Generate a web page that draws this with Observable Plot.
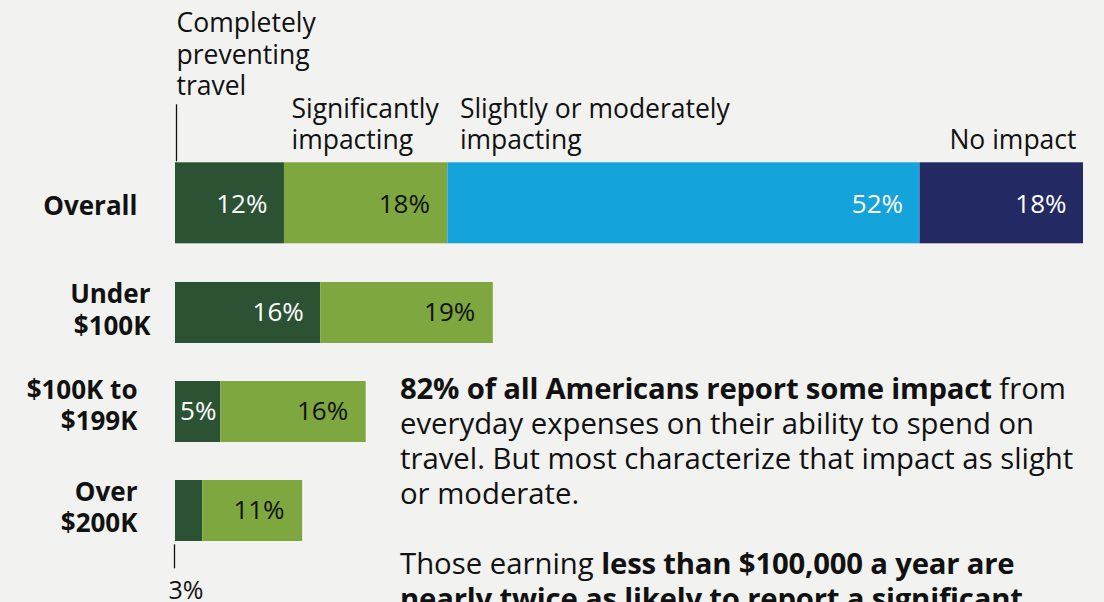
<!DOCTYPE html>
<html><head><meta charset="utf-8">
<script src="https://cdn.jsdelivr.net/npm/d3@7"></script>
<script src="https://cdn.jsdelivr.net/npm/@observablehq/plot@0.6"></script>
<style>
html,body{margin:0;padding:0;background:#f2f2f0;overflow:hidden;width:1104px;height:602px}
#wrap{position:relative;width:1104px;height:602px}
#chart svg{display:block}
#note{position:absolute;left:400px;top:371px;font-family:"Open Sans",sans-serif;font-size:29.3px;line-height:35px;color:#111;white-space:nowrap}
#note p{margin:0 0 35px 0}
#note b{font-weight:700;letter-spacing:-0.2px}
</style></head>
<body><div id="wrap"><div id="chart"></div><div id="note"></div></div>
<script>
// ---- data ----
const groups = ["Overall", "Under $100K", "$100K to $199K", "Over $200K"];
const groupLabels = ["Overall", "Under\n$100K", "$100K to\n$199K", "Over\n$200K"];
const categories = ["Completely preventing travel", "Significantly impacting", "Slightly or moderately impacting", "No impact"];
const categoryLabels = ["Completely\npreventing\ntravel", "Significantly\nimpacting", "Slightly or moderately\nimpacting", "No impact"];
const overallValues = [12, 18, 52, 18];
const under100kValues = [16, 19];
const k100to199Values = [5, 16];
const over200kValues = [3, 11];
const colors = ["#2c5234", "#7fa73f", "#15a3dc", "#232a63"];
const noteParagraph1 = [
  "<b>82% of all Americans report some impact</b> from",
  "everyday expenses on their ability to spend on",
  "travel. But most characterize that impact as slight",
  "or moderate."
];
const noteParagraph2 = [
  "Those earning <b>less than $100,000 a year are</b>",
  "<b>nearly twice as likely to report a significant</b>"
];

// ---- table ----
const seriesValues = [overallValues, under100kValues, k100to199Values, over200kValues];
const rows = [];
groups.forEach((g, i) => seriesValues[i].forEach((v, j) => rows.push({group: g, category: categories[j], value: v})));
const isOverall = d => d.group === groups[0];
const overallRows = rows.filter(isOverall);
const otherRows = rows.filter(d => !isOverall(d));
const labelOf = c => categoryLabels[categories.indexOf(c)];
const pct = d => `${d.value}%`;
const ink = "#111";
const headFont = 26.5, headLH = 31.5 / 26.5;
const groupLH = 31.5 / 26;

// value labels inside the bars for one subset of rows
function inBarLabels(data, dy) {
  return [
    Plot.text(data, Plot.stackX2({x: "value", y: "group",
      text: d => d.value >= 10 && d.category !== categories[1] ? pct(d) : null,
      textAnchor: "end", dx: -17, dy, fill: "white", fontSize: 26})),
    Plot.text(data, Plot.stackX2({x: "value", y: "group",
      text: d => d.value >= 10 && d.category === categories[1] ? pct(d) : null,
      textAnchor: "end", dx: -18, dy, fill: ink, fontSize: 26})),
    Plot.text(data, Plot.stackX({x: "value", y: "group",
      text: d => d.value >= 5 && d.value < 10 ? pct(d) : null,
      dy, fill: "white", fontSize: 26}))
  ];
}

const firstOf = g => rows.filter(d => d.group === g && d.category === categories[0]);
const groupText = (subset, dx, dy) => Plot.text(subset, {y: d => d, text: d => groupLabels[groups.indexOf(d)],
  frameAnchor: "left", textAnchor: "end", dx, dy, fontWeight: 700, fontSize: 26, lineHeight: groupLH, fill: ink});

const chart = Plot.plot({
  width: 1104, height: 602,
  marginLeft: 175, marginRight: 21, marginTop: 0, marginBottom: 0,
  style: {background: "transparent", fontFamily: '"Open Sans", sans-serif', color: ink},
  x: {domain: [0, 100], axis: null},
  y: {domain: groups, range: [161.7, 561.7], paddingInner: 0.38, paddingOuter: 0.2, axis: null},
  color: {domain: categories, range: colors},
  marks: [
    // bars
    Plot.barX(overallRows, Plot.stackX({x: "value", y: "group", fill: "category", insetTop: -20.7, insetBottom: 0.7})),
    Plot.barX(otherRows, Plot.stackX({x: "value", y: "group", fill: "category"})),
    // in-bar value labels
    ...inBarLabels(overallRows, -9),
    ...inBarLabels(otherRows, 0),
    // group labels
    groupText(groups.slice(0, 1), -38, -9.5),
    groupText(groups.slice(1, 2), -25, -4),
    groupText(groups.slice(2, 3), -38, -7.5),
    groupText(groups.slice(3), -38, -4.5),
    // category header labels above the Overall bar
    Plot.text(firstOf(groups[0]), Plot.stackX1({x: "value", y: "group",
      text: d => labelOf(d.category), textAnchor: "start", lineAnchor: "bottom", dx: 1, dy: -118.7,
      fontSize: headFont, lineHeight: headLH, fill: ink})),
    Plot.text(overallRows, Plot.stackX1({x: "value", y: "group",
      text: d => d.category === categories[1] ? labelOf(d.category) : null, textAnchor: "start", lineAnchor: "bottom", dx: 7, dy: -64.7,
      fontSize: headFont, lineHeight: headLH, fill: ink})),
    Plot.text(overallRows, Plot.stackX1({x: "value", y: "group",
      text: d => d.category === categories[2] ? labelOf(d.category) : null, textAnchor: "start", lineAnchor: "bottom", dx: 12, dy: -64.7,
      fontSize: headFont, lineHeight: headLH, fill: ink})),
    Plot.text(overallRows, Plot.stackX2({x: "value", y: "group",
      text: d => d.category === categories[3] ? labelOf(d.category) : null, textAnchor: "end", lineAnchor: "bottom", dx: -7, dy: -64.7,
      fontSize: headFont, lineHeight: headLH, fill: ink})),
    // leader ticks
    Plot.tickX(firstOf(groups[0]), Plot.stackX1({x: "value", y: "group",
      stroke: ink, strokeWidth: 1.3, insetBottom: 4, dy: -78.7, dx: 1})),
    Plot.tickX(firstOf(groups[3]), Plot.stackX1({x: "value", y: "group",
      stroke: ink, strokeWidth: 1.3, insetBottom: 37, dy: 64.3, dx: -1})),
    Plot.text(firstOf(groups[3]), Plot.stackX1({x: "value", y: "group",
      text: pct, textAnchor: "start", dx: -7, dy: 80.3, fontSize: 25, fill: ink}))
  ]
});
document.getElementById("chart").appendChild(chart);

document.getElementById("note").innerHTML =
  `<p>${noteParagraph1.join("<br>")}</p><p>${noteParagraph2.join("<br>")}</p>`;
</script></body></html>
